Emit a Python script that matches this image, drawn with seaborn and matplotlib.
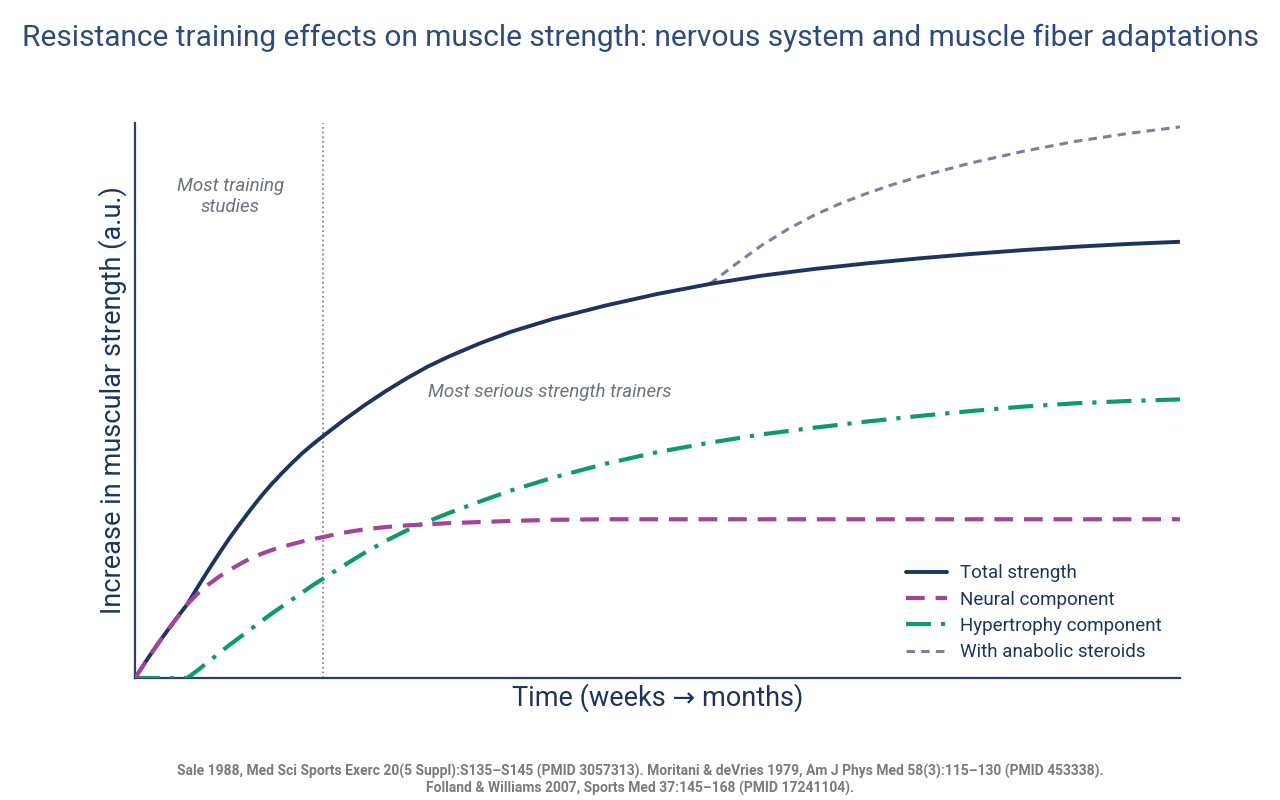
"""Resistance training: neural vs. hypertrophy contributions to strength gain."""
import matplotlib

matplotlib.use("Agg")
import matplotlib.pyplot as plt
import pandas as pd
import seaborn as sns

# time axis (arbitrary units, weeks -> months), shared by the three main curves
time = [0, 1.25, 2.5, 3.75, 5,
        6, 7, 8, 9, 10, 11, 12, 13, 14, 15, 16, 17, 18,
        20, 22, 24, 26, 28, 30,
        33, 36, 40,
        45, 50, 55, 60, 65, 70, 75, 80, 85, 90, 95, 100]
total = [0, 3.6, 7.0, 10.2, 13.3,
         16.4, 19.4, 22.3, 25.1, 27.7, 30.2, 32.6, 34.8, 36.8, 38.7, 40.5, 42.1, 43.6,
         46.5, 49.2, 51.7, 54.0, 56.1, 57.9,
         60.3, 62.4, 64.7,
         67.1, 69.2, 71.0, 72.5, 73.7, 74.7, 75.6, 76.4, 77.1, 77.7, 78.2, 78.6]
neural = [0, 3.6, 7.0, 10.2, 13.3,
          15.2, 16.8, 18.2, 19.4, 20.5, 21.5, 22.3, 23.0, 23.6, 24.1, 24.6, 25.0, 25.4,
          26.2, 26.8, 27.2, 27.5, 27.7, 27.9,
          28.1, 28.3, 28.5,
          28.6, 28.6, 28.6, 28.6, 28.6, 28.6, 28.6, 28.6, 28.6, 28.6, 28.6, 28.6]
hypertrophy = [0, 0, 0, 0, 0,
               1.4, 2.9, 4.4, 5.9, 7.3, 8.7, 10.1, 11.5, 12.8, 14.1, 15.4, 16.7, 17.9,
               20.3, 22.6, 24.7, 26.6, 28.2, 29.7,
               31.8, 33.8, 36.1,
               38.6, 40.7, 42.4, 43.9, 45.1, 46.2, 47.2, 48.1, 48.9, 49.5, 49.9, 50.2]
steroid_time = [55, 57.5, 60, 62.5, 65, 67.5, 70, 72.5, 75, 80, 85, 90, 95, 100]
steroid = [71.0, 74.6, 78.0, 80.9, 83.4, 85.5, 87.3, 88.9, 90.3, 92.8, 94.9,
           96.7, 98.1, 99.3]

study_cutoff = 18

NAVY = "#1d3461"
AXIS = "#2c3e6e"
PURPLE = "#a3449a"
GREEN = "#0e9a6b"
STEROID = "#7a819c"
NOTE = "#6b717e"

sns.set_theme(style="white")
plt.rcParams["font.family"] = ["Roboto", "DejaVu Sans"]

fig = plt.figure(figsize=(12.8, 8), dpi=100)
ax = fig.add_axes([0.1055, 0.1525, 0.8164, 0.69375])

df = pd.DataFrame({"time": time, "total": total, "neural": neural,
                   "hypertrophy": hypertrophy})
sdf = pd.DataFrame({"time": steroid_time, "steroid": steroid})

ax.axvline(study_cutoff, color="#8a8a8a", lw=1.3, ls=(0, (1, 1.6)), zorder=1)

sns.lineplot(data=sdf, x="time", y="steroid", ax=ax, color=STEROID, lw=2.2,
             linestyle=(0, (2.8, 2.0)), label="With anabolic steroids", zorder=2)
sns.lineplot(data=df, x="time", y="hypertrophy", ax=ax, color=GREEN, lw=3.0,
             linestyle=(0, (6, 2.4, 1, 2.4)), label="Hypertrophy component", zorder=3)
sns.lineplot(data=df, x="time", y="total", ax=ax, color=NAVY, lw=2.8,
             label="Total strength", zorder=4)
sns.lineplot(data=df, x="time", y="neural", ax=ax, color=PURPLE, lw=3.0,
             linestyle=(0, (4.5, 2.6)), label="Neural component", zorder=5)

ax.set_xlim(0, 100)
ax.set_ylim(0, 100)
ax.set_xticks([])
ax.set_yticks([])
for side in ("top", "right"):
    ax.spines[side].set_visible(False)
for side in ("left", "bottom"):
    ax.spines[side].set_color(AXIS)
    ax.spines[side].set_linewidth(1.6)

ax.set_xlabel("Time (weeks \u2192 months)", fontsize=19.5, color=NAVY, labelpad=4)
ax.set_ylabel("Increase in muscular strength (a.u.)", fontsize=19.5, color=NAVY,
              labelpad=6)

ax.text(9.1, 86.8, "Most training\nstudies", ha="center", va="center",
        fontsize=13.5, style="italic", color=NOTE, linespacing=1.2)
ax.text(28, 51.6, "Most serious strength trainers", ha="left", va="center",
        fontsize=13.5, style="italic", color=NOTE)

handles, labels = ax.get_legend_handles_labels()
order = ["Total strength", "Neural component", "Hypertrophy component",
         "With anabolic steroids"]
hmap = dict(zip(labels, handles))
ax.legend([hmap[k] for k in order], order, loc="lower right",
          bbox_to_anchor=(0.999, 0.0), frameon=False, fontsize=13.5,
          handlelength=2.2, handletextpad=0.7, labelspacing=0.44,
          labelcolor=NAVY)

fig.text(0.5, 0.953, "Resistance training effects on muscle strength: nervous "
         "system and muscle fiber adaptations", ha="center", va="center",
         fontsize=21.5, color="#2e4a7d")
fig.text(0.5, 0.025, "Sale 1988, Med Sci Sports Exerc 20(5 Suppl):S135\u2013S145 "
         "(PMID 3057313). Moritani & deVries 1979, Am J Phys Med 58(3):115\u2013130 "
         "(PMID 453338).\nFolland & Williams 2007, Sports Med 37:145\u2013168 "
         "(PMID 17241104).", ha="center", va="center", fontsize=10,
         fontweight="bold", color="#7a7a7a", linespacing=1.1)

fig.savefig("out.png", dpi=100)
